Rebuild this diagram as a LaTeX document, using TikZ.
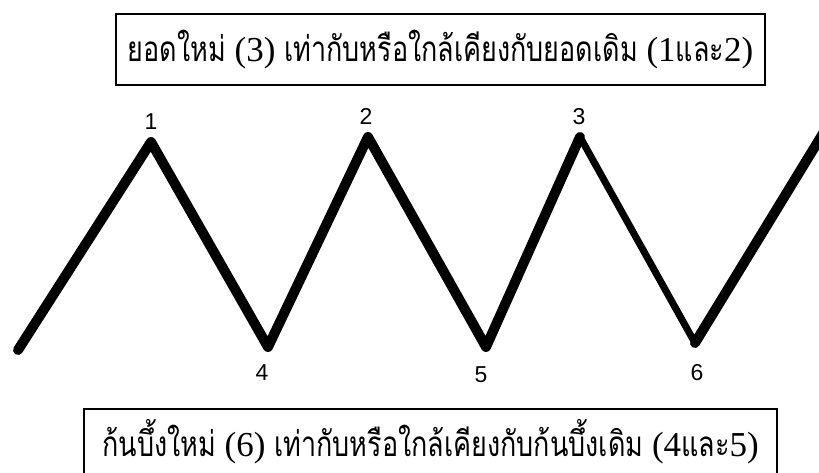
\documentclass[tikz,border=0pt]{standalone}
\usepackage{fontspec}
\setmainfont{Liberation Serif}
\newfontfamily\thaifont[Script=Thai,FakeStretch=0.77]{Loma}
\newfontfamily\labelfont{Liberation Sans}
\begin{document}
\begin{tikzpicture}[
  x=1pt, y=-1pt,
  box/.style={draw=black, line width=2pt, inner sep=0pt, font=\fontsize{35}{39}\selectfont},
  zig/.style={line width=10pt, draw=black, line cap=round, line join=round},
  thin/.style={line width=7pt, draw=black, line cap=round, line join=round},
  lbl/.style={font=\labelfont\fontsize{23}{24}\selectfont, inner sep=0pt}
]
\useasboundingbox (0,0) rectangle (819,473);
\clip (0,0) rectangle (819,473);

\node[box, minimum width=649pt, minimum height=71pt] (top) at (440.5,49.5)
  {{\thaifont ยอดใหม่} (3) {\thaifont เท่ากับหรือใกล้เคียงกับยอดเดิม} (1{\thaifont และ}2)};
\node[box, minimum width=693pt, minimum height=66pt] (bottom) at (430.5,442)
  {{\thaifont ก้นบึ้งใหม่} (6) {\thaifont เท่ากับหรือใกล้เคียงกับก้นบึ้งเดิม} (4{\thaifont และ}5)};

\coordinate (s) at (18,350);
\coordinate (p1) at (151,142);
\coordinate (t4) at (268,347);
\coordinate (p2) at (368,137);
\coordinate (t5) at (486,347);
\coordinate (p3) at (580,137);
\coordinate (t6) at (695,343);
\coordinate (e) at (830,122);

\node[lbl] (n1) at (151,122) {1};
\node[lbl] (n2) at (366,116) {2};
\node[lbl] (n3) at (579,117) {3};
\node[lbl] (n4) at (262,373) {4};
\node[lbl] (n5) at (481,375) {5};
\node[lbl] (n6) at (697,373) {6};

\draw[zig] (s) -- (p1) -- (t4) -- (p2) -- (t5) -- (p3);
\draw[thin] (p3) -- (t6);
\draw[zig] (t6) -- (e);
\end{tikzpicture}
\end{document}
